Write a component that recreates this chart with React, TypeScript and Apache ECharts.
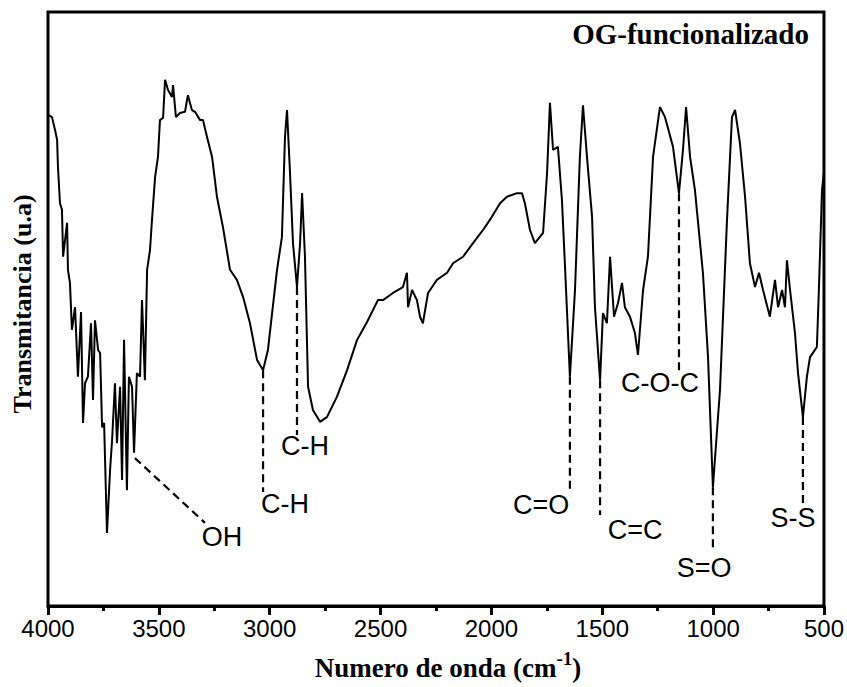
import React, { useEffect, useRef } from "react";
import * as echarts from "echarts";

// Wavenumber (cm^-1)
const wavenumber = [
  4000, 3982, 3968, 3959, 3955, 3946, 3937, 3932, 3914, 3910,
  3901, 3892, 3878, 3865, 3851, 3842, 3833, 3820, 3806, 3797,
  3788, 3774, 3765, 3756, 3747, 3734, 3720, 3711, 3698, 3689,
  3675, 3666, 3657, 3644, 3635, 3621, 3612, 3599, 3585, 3576,
  3563, 3553, 3540, 3531, 3517, 3504, 3495, 3481, 3472, 3459,
  3441, 3436, 3423, 3405, 3382, 3369, 3351, 3337, 3314, 3301,
  3283, 3260, 3238, 3211, 3179, 3148, 3120, 3089, 3057, 3030,
  3008, 2967, 2945, 2931, 2922, 2909, 2895, 2877, 2863, 2854,
  2841, 2827, 2805, 2773, 2742, 2697, 2651, 2606, 2561, 2512,
  2489, 2444, 2399, 2381, 2376, 2358, 2336, 2322, 2309, 2286,
  2246, 2200, 2173, 2128, 2083, 2038, 2007, 1961, 1930, 1885,
  1862, 1849, 1826, 1804, 1767, 1749, 1736, 1722, 1700, 1682,
  1668, 1646, 1623, 1601, 1587, 1569, 1546, 1533, 1510, 1497,
  1479, 1465, 1447, 1429, 1411, 1398, 1375, 1353, 1339, 1316,
  1294, 1271, 1240, 1217, 1181, 1154, 1136, 1122, 1104, 1082,
  1046, 1023, 1001, 969, 938, 915, 901, 879, 856, 834,
  811, 793, 775, 744, 721, 707, 689, 676, 667, 653,
  631, 617, 595, 577, 563, 532, 523, 509, 500,
];

// Transmittance (arbitrary units)
const transmittance = [
  82.7, 82.3, 80.1, 78.5, 73.9, 67.8, 66.7, 58.8, 64.5, 56.6,
  54.4, 46.5, 50.3, 38.6, 49.5, 30.8, 37.5, 38.6, 47.6, 34.7,
  48.1, 43.1, 42.6, 30.1, 30.8, 12.3, 22.9, 27.9, 37.5, 27.4,
  36.9, 21.2, 44.8, 19.5, 38.6, 36.9, 25.8, 39.2, 38.6, 51.5,
  38.0, 56.6, 59.9, 65.0, 72.2, 75.6, 81.8, 82.2, 88.6, 86.9,
  85.7, 87.7, 82.3, 83.0, 83.2, 86.0, 83.5, 83.2, 81.8, 81.8,
  79.0, 75.6, 68.9, 63.8, 56.6, 54.9, 52.0, 47.6, 41.4, 39.7,
  43.1, 56.6, 62.1, 79.0, 83.5, 73.4, 61.1, 53.7, 61.1, 69.5,
  58.8, 36.9, 33.0, 31.0, 31.8, 35.2, 39.7, 44.8, 47.8, 51.5,
  51.5, 52.7, 53.7, 56.1, 50.3, 53.2, 51.5, 48.7, 47.6, 52.7,
  54.9, 56.1, 57.7, 58.8, 61.1, 63.3, 65.0, 67.8, 68.9, 69.5,
  69.5, 67.8, 63.3, 61.1, 62.8, 72.9, 84.7, 76.8, 77.3, 68.4,
  57.1, 38.6, 53.2, 75.6, 84.3, 75.6, 65.5, 50.3, 38.0, 49.3,
  47.6, 58.8, 48.7, 51.0, 54.4, 50.3, 48.7, 46.0, 42.3, 53.2,
  58.8, 75.6, 84.0, 82.3, 77.3, 69.5, 76.8, 84.0, 75.6, 70.0,
  56.1, 41.9, 20.0, 36.4, 64.5, 82.3, 83.5, 77.9, 68.9, 57.7,
  53.7, 56.1, 53.2, 48.7, 54.9, 50.3, 53.2, 50.3, 58.2, 53.2,
  46.0, 39.2, 31.8, 38.6, 41.9, 43.6, 53.2, 70.0, 73.0,
];

// Band assignments
const bandLabels = ["OH", "C-H", "C-H", "C=O", "C=C", "C-O-C", "S=O", "S-S"];
// Leader line: [x1, y1, x2, y2] in data units
const leaderLines = [
  [3608, 24.9, 3292, 14.0],
  [3030, 39.7, 3030, 19.2],
  [2877, 53.7, 2877, 28.8],
  [1646, 38.6, 1646, 19.5],
  [1510, 38.0, 1510, 15.3],
  [1154, 69.5, 1154, 39.4],
  [1001, 20.0, 1001, 9.4],
  [595, 31.8, 595, 17.0],
];
// Label anchor in data units
const labelAnchors = [
  [3215, 11.6],
  [2931, 17.2],
  [2841, 26.9],
  [1776, 17.0],
  [1352, 12.8],
  [1240, 37.5],
  [1041, 6.4],
  [640, 14.8],
];

const xTicks = { min: 500, max: 4000, interval: 500 };
const titleText = "OG-funcionalizado";
const yAxisTitle = "Transmitancia (u.a)";

export default function App() {
  const ref = useRef<HTMLDivElement>(null);
  useEffect(() => {
    document.body.style.margin = "0";
    const chart = echarts.init(ref.current!, null, { renderer: "svg" });
    const serif = "Liberation Serif";
    const sans = "Liberation Sans";
    const series: any[] = [
      {
        type: "line",
        data: wavenumber.map((w, i) => [w, transmittance[i]]),
        showSymbol: false,
        symbol: "none",
        lineStyle: { color: "#000", width: 2 },
        z: 3,
      },
    ];
    leaderLines.forEach((l) => {
      series.push({
        type: "line",
        data: [
          [l[0], l[1]],
          [l[2], l[3]],
        ],
        showSymbol: false,
        symbol: "none",
        lineStyle: { color: "#000", width: 2.2, type: [8, 5] },
        z: 2,
      });
    });
    series.push({
      type: "scatter",
      symbolSize: 0,
      itemStyle: { color: "#000" },
      data: labelAnchors.map((a, i) => ({ value: a, name: bandLabels[i] })),
      label: {
        show: true,
        position: "inside",
        formatter: (p: any) => p.name,
        color: "#000",
        opacity: 1,
        textBorderWidth: 0,
        fontSize: 27,
        fontFamily: sans,
      },
      z: 4,
    });

    chart.setOption({
      animation: false,
      grid: {
        left: 48,
        right: 23,
        top: 12,
        bottom: 81,
        show: true,
        borderColor: "#000",
        borderWidth: 3,
      },
      xAxis: {
        type: "value",
        inverse: true,
        min: xTicks.min,
        max: xTicks.max,
        interval: xTicks.interval,
        axisLine: { show: true, lineStyle: { color: "#000", width: 3 } },
        axisTick: { show: true, length: 9, inside: false, lineStyle: { color: "#000", width: 3 } },
        minorTick: { show: true, splitNumber: 2, length: 5, lineStyle: { color: "#000", width: 3 } },
        axisLabel: {
          color: "#000",
          fontSize: 24,
          fontFamily: sans,
          margin: 10,
          formatter: (v: number) => String(v),
        },
        splitLine: { show: false },
      },
      yAxis: {
        type: "value",
        min: 0,
        max: 100,
        axisLine: { show: false },
        axisTick: { show: false },
        axisLabel: { show: false },
        splitLine: { show: false },
      },
      graphic: [
        {
          type: "text",
          right: 847 - 809,
          top: 19,
          style: {
            text: titleText,
            fontFamily: serif,
            fontWeight: "bold",
            fontSize: 29,
            fill: "#000",
          },
        },
        {
          type: "text",
          x: 22,
          y: 304,
          rotation: Math.PI / 2,
          style: {
            text: yAxisTitle,
            fontFamily: serif,
            fontWeight: "bold",
            fontSize: 26,
            fill: "#000",
            align: "center",
            verticalAlign: "middle",
          },
        },
        {
          type: "text",
          x: 448,
          y: 665,
          style: {
            text: "{a|Numero de onda (cm}{b|-1}{a|)}",
            align: "center",
            verticalAlign: "middle",
            fill: "#000",
            rich: {
              a: { fontFamily: serif, fontWeight: "bold", fontSize: 27, fill: "#000", verticalAlign: "bottom" },
              b: { fontFamily: serif, fontWeight: "bold", fontSize: 19, fill: "#000", verticalAlign: "top", padding: [0, 0, 14, 0] },
            },
          },
        },
      ],
      series,
    });
    return () => chart.dispose();
  }, []);
  return <div ref={ref} style={{ width: 847, height: 687 }} />;
}
